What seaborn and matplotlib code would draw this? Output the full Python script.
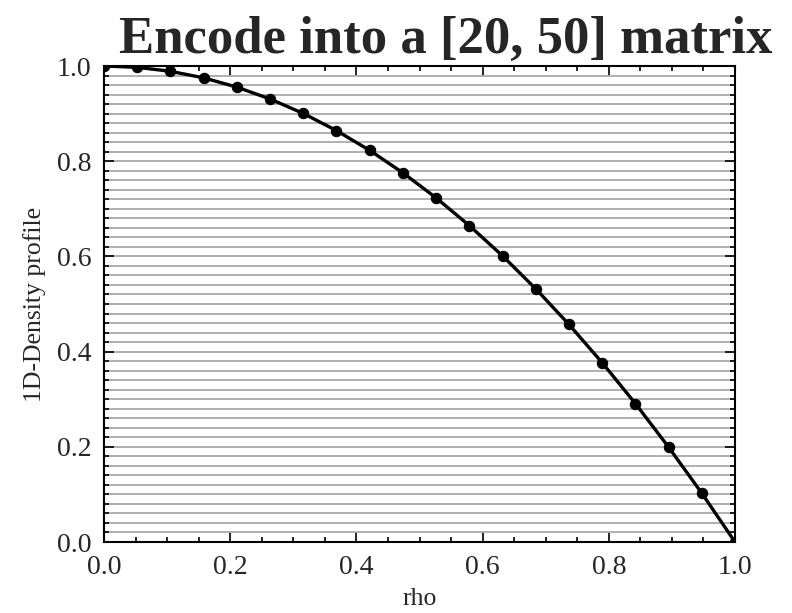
import matplotlib
matplotlib.use("Agg")
import matplotlib.pyplot as plt
from matplotlib.ticker import MultipleLocator
import seaborn as sns
import pandas as pd

# data
rho = [0.0, 0.0526, 0.1053, 0.1579, 0.2105, 0.2632, 0.3158, 0.3684, 0.4211, 0.4737,
       0.5263, 0.5789, 0.6316, 0.6842, 0.7368, 0.7895, 0.8421, 0.8947, 0.9474, 1.0]
density = [1.0, 0.9972, 0.9889, 0.9751, 0.9557, 0.9307, 0.9003, 0.8643, 0.8227, 0.7756,
           0.7230, 0.6648, 0.6011, 0.5319, 0.4571, 0.3767, 0.2909, 0.1994, 0.1025, 0.0]
xticks = [0.0, 0.2, 0.4, 0.6, 0.8, 1.0]
yticks = [0.0, 0.2, 0.4, 0.6, 0.8, 1.0]
title = "Encode into a [20, 50] matrix"

df = pd.DataFrame({"rho": rho, "density": density})

sns.set_theme(style="ticks")
plt.rcParams["font.family"] = ["Liberation Serif", "DejaVu Serif"]
plt.rcParams["mathtext.fontset"] = "stix"

fig = plt.figure(figsize=(7.92, 6.13), dpi=100)
ax = fig.add_axes([104 / 792, 71 / 613, 631 / 792, 476 / 613])

ax.set_axisbelow(True)
ax.yaxis.set_minor_locator(MultipleLocator(0.02))
ax.xaxis.set_minor_locator(MultipleLocator(0.05))
ax.grid(which="both", axis="y", color="#aaaaaa", linewidth=1.3)

sns.lineplot(data=df, x="rho", y="density", ax=ax, color="black", linewidth=2.4,
             marker="o", markersize=7.5, markeredgecolor="black", markerfacecolor="black")

ax.set_xlim(0, 1)
ax.set_ylim(0, 1)
ax.set_xticks(xticks)
ax.set_yticks(yticks)
ax.set_xticklabels([f"{v:.1f}" for v in xticks])
ax.set_yticklabels([f"{v:.1f}" for v in yticks])

ax.tick_params(which="both", direction="in", top=True, right=True, labelsize=20,
               color="black", width=1.2)
ax.tick_params(which="major", length=7, pad=9)
ax.tick_params(which="minor", length=3.5)
for s in ax.spines.values():
    s.set_color("black")
    s.set_linewidth(1.5)

ax.set_xlabel("rho", fontsize=18.5, labelpad=6)
ax.set_ylabel("1D-Density profile", fontsize=18.5, labelpad=8)

fig.text(446 / 792, 1 - 53 / 613, title, ha="center", va="baseline",
         fontsize=38, fontweight="bold")

fig.savefig("out.png", dpi=100)
